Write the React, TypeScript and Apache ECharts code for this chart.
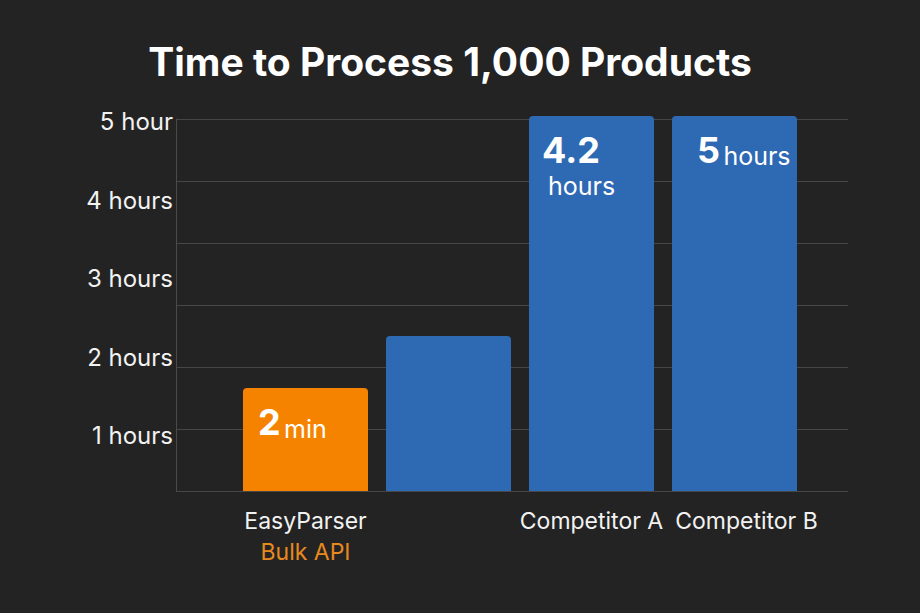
import React, { useEffect, useRef } from "react";
import * as echarts from "echarts";

const titleText = "Time to Process 1,000 Products";
const categories = ["EasyParser", "", "Competitor A", "Competitor B"];
const subLabels = ["Bulk API", "", "", ""];
// bar heights as read against the grid lines (one unit per grid row)
const barHeights = [1.66, 2.5, 6.05, 6.05];
const barColors = ["#F58300", "#2E69B3", "#2E69B3", "#2E69B3"];
const barValueMain = ["2", "", "4.2", "5"];
const barValueUnit = ["min", "", "hours", "hours"];
const yTickValues = [1, 2, 3, 4, 5];
const yTickLabels = ["1 hours", "2 hours", "3 hours", "4 hours", "5 hour"];

const FONT = "Inter, 'Noto Sans', sans-serif";

export default function App() {
  const ref = useRef<HTMLDivElement>(null);
  useEffect(() => {
    document.body.style.margin = "0";
    const chart = echarts.init(ref.current!, null, { renderer: "svg" });
    const labelFor = (i: number) => {
      if (!barValueMain[i]) return { show: false };
      if (i === 0) {
        return {
          show: true,
          position: [15, 15],
          formatter: `{big|${barValueMain[i]}} {small|${barValueUnit[i]}}`,
        };
      }
      if (i === 2) {
        return {
          show: true,
          position: [13, 15],
          formatter: `{big|${barValueMain[i]}}\n{small2|${barValueUnit[i]}}`,
        };
      }
      return {
        show: true,
        position: [25, 15],
        formatter: `{big|${barValueMain[i]}} {small|${barValueUnit[i]}}`,
      };
    };
    chart.setOption({
      animation: false,
      backgroundColor: "#232323",
      textStyle: { fontFamily: FONT },
      title: {
        text: titleText,
        left: 445,
        textAlign: "center",
        top: 33,
        textStyle: {
          color: "#FFFFFF",
          fontSize: 39,
          fontWeight: 700,
          fontFamily: FONT,
          lineHeight: 46,
        },
      },
      grid: [
        { left: 176, right: 72, top: 119, bottom: 122 },
        { left: 234, right: 114, top: 119, bottom: 122 },
      ],
      xAxis: [
        { gridIndex: 0, type: "value", min: 0, max: 1, show: false },
        {
          gridIndex: 1,
          type: "category",
          data: categories,
          axisLine: { show: false },
          axisTick: { show: false },
          axisLabel: {
            margin: 14,
            interval: 0,
            formatter: (v: string, i: number) => {
              if (subLabels[i]) return `{name|${v}}\n{sub|${subLabels[i]}}`;
              if (i === categories.length - 1) return `{nameR|${v}}`;
              return `{name|${v}}`;
            },
            rich: {
              name: { color: "#F2F2F2", fontSize: 23, fontFamily: FONT, lineHeight: 31 },
              nameR: {
                color: "#F2F2F2",
                fontSize: 23,
                fontFamily: FONT,
                lineHeight: 31,
                padding: [0, 0, 0, 24],
              },
              sub: { color: "#E8891F", fontSize: 23, fontFamily: FONT, lineHeight: 31 },
            },
          },
        },
      ],
      yAxis: [
        {
          gridIndex: 0,
          type: "value",
          min: 0,
          max: 6,
          interval: 1,
          axisLine: { show: true, lineStyle: { color: "#4A4A4A", width: 1 } },
          axisTick: { show: false },
          axisLabel: { show: false },
          splitLine: { show: true, lineStyle: { color: "#474747", width: 1 } },
        },
        {
          gridIndex: 0,
          type: "value",
          position: "left",
          min: 0.293,
          max: 5.034,
          axisLine: { show: false },
          axisTick: { show: false },
          splitLine: { show: false },
          axisLabel: {
            customValues: yTickValues,
            margin: 3,
            color: "#F2F2F2",
            fontSize: 24,
            fontFamily: FONT,
            formatter: (v: number) => {
              const idx = yTickValues.indexOf(Math.round(v));
              return idx >= 0 ? yTickLabels[idx] : "";
            },
          },
        },
        { gridIndex: 1, type: "value", min: 0, max: 6, show: false },
      ],
      series: [
        {
          type: "bar",
          xAxisIndex: 1,
          yAxisIndex: 2,
          barWidth: 125,
          clip: false,
          data: barHeights.map((v, i) => ({
            value: v,
            itemStyle: { color: barColors[i], borderRadius: [4, 4, 0, 0] },
            label: labelFor(i),
          })),
          label: {
            rich: {
              big: { color: "#FFFFFF", fontSize: 36, fontWeight: 700, fontFamily: FONT, lineHeight: 38 },
              small: {
                color: "#FFFFFF",
                fontSize: 25,
                fontFamily: FONT,
                lineHeight: 30,
                verticalAlign: "bottom",
              },
              small2: { color: "#FFFFFF", fontSize: 25, fontFamily: FONT, lineHeight: 34, padding: [0, 0, 0, 6] },
            },
          },
        },
      ],
    });
    return () => chart.dispose();
  }, []);
  return <div ref={ref} style={{ width: 920, height: 613, background: "#232323" }} />;
}
